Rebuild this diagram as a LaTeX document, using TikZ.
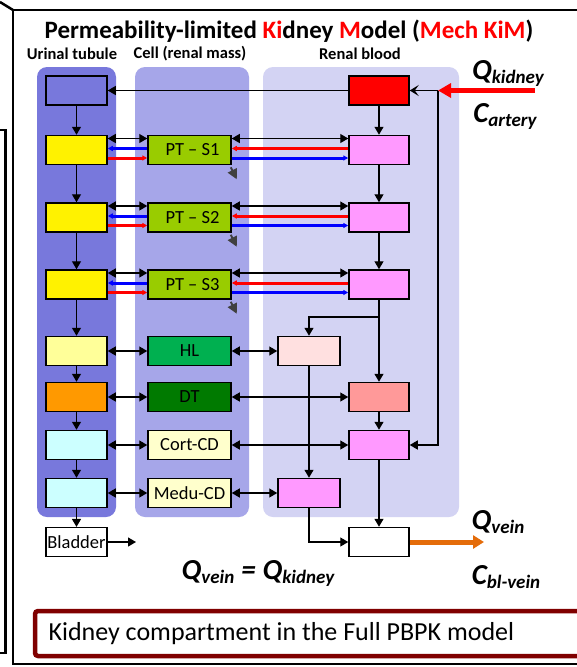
\documentclass[tikz,border=0pt]{standalone}
\usepackage{fontspec}
\setmainfont{Carlito}
\usetikzlibrary{arrows.meta}
\definecolor{colU}{RGB}{120,120,220}
\definecolor{colC}{RGB}{166,166,233}
\definecolor{colB}{RGB}{211,211,243}
\definecolor{ptgreen}{RGB}{153,204,0}
\definecolor{hlgreen}{RGB}{0,176,80}
\definecolor{dtgreen}{RGB}{0,122,0}
\definecolor{lyellow}{RGB}{255,255,153}
\definecolor{orng}{RGB}{255,153,0}
\definecolor{lcyan}{RGB}{204,255,255}
\definecolor{cream}{RGB}{255,255,204}
\definecolor{pinkb}{RGB}{255,153,255}
\definecolor{lpink}{RGB}{255,224,224}
\definecolor{salmon}{RGB}{255,153,153}
\definecolor{veinorange}{RGB}{228,108,10}
\definecolor{darkred}{RGB}{128,0,0}
\definecolor{grayarrow}{RGB}{64,64,64}
\newcommand\qlabel[2]{{\fontsize{29}{29}\selectfont\bfseries\itshape #1\raisebox{-4pt}{\fontsize{19}{19}\selectfont #2}}}
\begin{document}
\begin{tikzpicture}[x=1pt,y=-1pt,
  box/.style={draw=black, line width=1.5pt, minimum width=61pt, minimum height=29pt, inner sep=0pt, font=\fontsize{18.5}{18.5}\selectfont},
  cbox/.style={box, minimum width=83pt},
  col/.style={rounded corners=10pt},
  arr/.style={line width=1.3pt, -{Triangle[length=8pt,width=9pt]}},
  darr/.style={line width=1.3pt, {Triangle[length=8pt,width=9pt]}-{Triangle[length=8pt,width=9pt]}},
  bluearr/.style={draw=blue, line width=3pt, -{Triangle[length=5pt,width=5pt]}},
  redarr/.style={draw=red, line width=3pt, -{Triangle[length=5pt,width=5pt]}},
  grayarr/.style={draw=grayarrow, line width=1.8pt, -{Triangle[length=10pt,width=10pt]}},
  hdr/.style={font=\fontsize{16.5}{16.5}\selectfont\bfseries},
]
\useasboundingbox (0,0) rectangle (577,667);
\clip (0,0) rectangle (577,667);
\fill[white] (0,0) rectangle (577,667);
% outer frames
\draw[line width=2.5pt] (0,2) -- (13,10);
\draw[line width=2.5pt] (620,10) -- (13,10) -- (13,664) -- (620,664);
\draw[line width=2.5pt] (-5,130) -- (5.5,130) -- (5.5,653) -- (-5,653);
% title and headers
\node (title) at (289,31) {\fontsize{25}{25}\selectfont\bfseries Permeability-limited \textcolor{red}{Ki}dney \textcolor{red}{M}odel (\textcolor{red}{Mech KiM})};
\node[hdr] (hU) at (72,54) {Urinal tubule};
\node[hdr] (hC) at (190,54) {Cell (renal mass)};
\node[hdr] (hB) at (360,54) {Renal blood};
% column backgrounds
\fill[colU, col] (37,67) rectangle (116,517);
\fill[colC, col] (135,67) rectangle (249,517);
\fill[colB, col] (263,67) rectangle (459,517);
% urinal tubule boxes
\node[box, fill=colU] (u0) at (76.5,90.5) {};
\node[box, fill=yellow] (u1) at (76.5,150) {};
\node[box, fill=yellow] (u2) at (76.5,217.5) {};
\node[box, fill=yellow] (u3) at (76.5,284.5) {};
\node[box, fill=lyellow] (u4) at (76.5,351) {};
\node[box, fill=orng] (u5) at (76.5,397) {};
\node[box, fill=lcyan] (u6) at (76.5,445) {};
\node[box, fill=lcyan] (u7) at (76.5,493) {};
\node[box, fill=white, line width=1.2pt] (bl) at (76.5,542) {Bladder};
% cell boxes
\node[cbox, fill=ptgreen] (c1) at (189.5,150) {\hspace{6pt}PT -- S1};
\node[cbox, fill=ptgreen] (c2) at (189.5,217.5) {\hspace{6pt}PT -- S2};
\node[cbox, fill=ptgreen] (c3) at (189.5,284.5) {\hspace{6pt}PT -- S3};
\node[cbox, fill=hlgreen] (c4) at (189.5,351) {HL};
\node[cbox, fill=dtgreen] (c5) at (189.5,397) {DT};
\node[cbox, fill=cream] (c6) at (189.5,445) {Cort-CD\hspace{8pt}};
\node[cbox, fill=cream] (c7) at (189.5,493) {Medu-CD};
% blood boxes
\node[box, minimum width=60pt, fill=red] (b0) at (379,90.5) {};
\node[box, minimum width=60pt, fill=pinkb] (b1) at (379,150) {};
\node[box, minimum width=60pt, fill=pinkb] (b2) at (379,217.5) {};
\node[box, minimum width=60pt, fill=pinkb] (b3) at (379,284.5) {};
\node[box, minimum width=62pt, fill=lpink] (b4) at (309,351) {};
\node[box, minimum width=60pt, fill=salmon] (b5) at (379,397) {};
\node[box, minimum width=60pt, fill=pinkb] (b6) at (379,445) {};
\node[box, minimum width=62pt, fill=pinkb] (b7) at (309,493) {};
\node[box, minimum width=60pt, fill=white] (b8) at (379,542) {};
% coordinates
\coordinate (artin) at (535,90.5);
\coordinate (art) at (438,90.5);
\coordinate (j1) at (379,317);
\coordinate (bout) at (136,542);
\coordinate (vout) at (484,542);
% urinal chain
\foreach \a/\b in {u0/u1,u1/u2,u2/u3,u3/u4,u4/u5,u5/u6,u6/u7,u7/bl}
  \draw[arr] (\a.south) -- (\b.north);
\draw[arr] (bl.east) -- (bout);
% blood chain
\draw[arr] (b0.south) -- (b1.north);
\draw[arr] (b1.south) -- (b2.north);
\draw[arr] (b2.south) -- (b3.north);
\draw[arr] (b3.south) -- (b5.north);
\draw[arr] (j1) -| (b4.north);
\draw[arr] (b5.south) -- (b6.north);
\draw[arr] (b6.south) -- (b8.north);
\draw[arr] (b4.south) -- (b7.north);
\draw[arr] (b7.south) |- (b8.west);
\draw[arr] (b0.west) -- (u0.east);
% arterial inflow
\draw[red, line width=5pt, -{Triangle[length=13pt,width=14pt]}] (artin) -- (art);
\draw[line width=1.3pt, -{Stealth[length=9pt,width=11pt,inset=4pt]}] (art) -- (b0.east);
\draw[arr] (art) |- (b6.east);
% PT exchange rows
\foreach \i in {1,2,3}{
  \draw[darr] ([yshift=11.5pt]u\i.east) -- ([yshift=11.5pt]c\i.west);
  \draw[bluearr] ([yshift=1.5pt]c\i.west) -- ([yshift=1.5pt]u\i.east);
  \draw[redarr] ([yshift=-8pt]u\i.east) -- ([yshift=-8pt]c\i.west);
  \draw[darr] ([yshift=11.5pt]c\i.east) -- ([yshift=11.5pt]b\i.west);
  \draw[redarr] ([yshift=1.5pt]b\i.west) -- ([yshift=1.5pt]c\i.east);
  \draw[bluearr] ([yshift=-8pt]c\i.east) -- ([yshift=-8pt]b\i.west);
  \draw[grayarr] ([xshift=-1pt,yshift=-2pt]c\i.south east) -- ++(6,12);
}
% lower rows
\foreach \i in {4,5,6,7}{
  \draw[darr] (u\i.east) -- (c\i.west);
  \draw[darr] (c\i.east) -- (b\i.west);
}
% venous outflow
\draw[veinorange, line width=5pt, -{Triangle[length=11pt,width=13pt]}] (b8.east) -- (vout);
% labels
\node (qk) at (508,73) {\qlabel{Q}{kidney}};
\node (ca) at (505,116) {\qlabel{C}{artery}};
\node (qv) at (498,522) {\qlabel{Q}{vein}};
\node (cv) at (506,577) {\qlabel{C}{bl-vein}};
\node (qeq) at (258,573) {\qlabel{Q}{vein}\hspace{7pt}{\fontsize{29}{29}\selectfont\bfseries\itshape =}\hspace{7pt}\qlabel{Q}{kidney}};
% bottom caption box
\draw[darkred, line width=4.5pt, rounded corners=3pt] (35,611) rectangle (620,656);
\node[anchor=west, font=\fontsize{26}{26}\selectfont] (cap) at (45,633.5) {Kidney compartment in the Full PBPK model};
\end{tikzpicture}
\end{document}
